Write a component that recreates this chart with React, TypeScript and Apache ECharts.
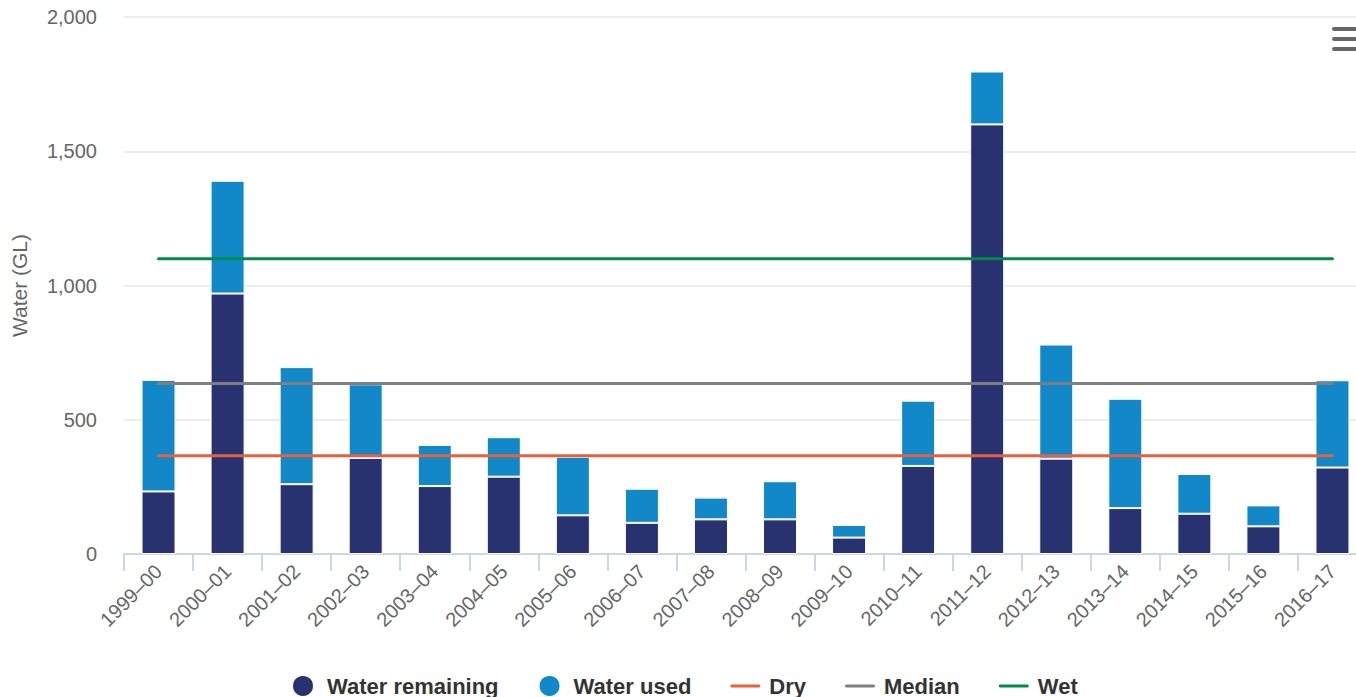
import React, { useEffect, useRef } from "react";
import * as echarts from "echarts";

const categories = [
  "1999–00", "2000–01", "2001–02", "2002–03", "2003–04", "2004–05",
  "2005–06", "2006–07", "2007–08", "2008–09", "2009–10", "2010–11",
  "2011–12", "2012–13", "2013–14", "2014–15", "2015–16", "2016–17",
];
const waterRemaining = [233, 970, 260, 358, 253, 288, 144, 116, 129, 129, 61, 328, 1600, 355, 171, 150, 103, 322];
const waterUsed = [415, 420, 436, 274, 153, 147, 218, 127, 81, 142, 47, 243, 197, 425, 407, 148, 78, 325];
const dry = [366, 366, 366, 366, 366, 366, 366, 366, 366, 366, 366, 366, 366, 366, 366, 366, 366, 366];
const median = [635, 635, 635, 635, 635, 635, 635, 635, 635, 635, 635, 635, 635, 635, 635, 635, 635, 635];
const wet = [1100, 1100, 1100, 1100, 1100, 1100, 1100, 1100, 1100, 1100, 1100, 1100, 1100, 1100, 1100, 1100, 1100, 1100];
const yTicks = { min: 0, max: 2000, interval: 500 };

const FONT = "'Liberation Sans', Arial, Helvetica, sans-serif";
const LINE_ICON = "path://M1,0 L29,0 A1.5,1.5 0 0 1 29,3 L1,3 A1.5,1.5 0 0 1 1,0 Z";

export default function App() {
  const ref = useRef<HTMLDivElement>(null);
  useEffect(() => {
    if (!ref.current) return;
    const chart = echarts.init(ref.current, undefined, { renderer: "svg" });
    const barStyle = (color: string) => ({ color, borderColor: "#ffffff", borderWidth: 1 });
    const lineSeries = (name: string, data: number[], color: string) => ({
      name,
      type: "line",
      data,
      symbol: "none",
      lineStyle: { color, width: 3, cap: "round" },
      itemStyle: { color },
      z: 5,
    });
    chart.setOption({
      animation: false,
      textStyle: { fontFamily: FONT },
      grid: { left: 124, right: 13, top: 17, bottom: 143 },
      legend: {
        left: 286,
        top: 669,
        itemWidth: 30,
        itemHeight: 22,
        itemGap: 39,
        textStyle: { fontFamily: FONT, fontSize: 22, fontWeight: "bold", color: "#333333", padding: [0, 0, 0, 4] },
        data: [
          { name: "Water remaining", icon: "circle" },
          { name: "Water used", icon: "circle" },
          { name: "Dry", icon: LINE_ICON },
          { name: "Median", icon: LINE_ICON },
          { name: "Wet", icon: LINE_ICON },
        ],
      },
      xAxis: {
        type: "category",
        data: categories,
        axisLine: { lineStyle: { color: "#ccd6eb", width: 2 } },
        axisTick: { show: true, length: 17, lineStyle: { color: "#ccd6eb", width: 2 } },
        axisLabel: { rotate: 45, fontSize: 20, color: "#666666", fontFamily: FONT, margin: 14 },
      },
      yAxis: {
        type: "value",
        min: yTicks.min,
        max: yTicks.max,
        interval: yTicks.interval,
        name: "Water (GL)",
        nameLocation: "middle",
        nameGap: 94,
        nameTextStyle: { fontSize: 21, color: "#666666", fontFamily: FONT },
        axisLine: { show: false },
        axisTick: { show: false },
        axisLabel: {
          fontSize: 20,
          color: "#666666",
          margin: 27,
          fontFamily: FONT,
          formatter: (v: number) => v.toLocaleString("en-US"),
        },
        splitLine: { lineStyle: { color: "#e6e6e6", width: 1.5 } },
      },
      series: [
        { name: "Water remaining", type: "bar", stack: "water", barWidth: 34, data: waterRemaining, itemStyle: barStyle("#293271") },
        { name: "Water used", type: "bar", stack: "water", barWidth: 34, data: waterUsed, itemStyle: barStyle("#1388c8") },
        lineSeries("Dry", dry, "#e8603c"),
        lineSeries("Median", median, "#7d8080"),
        lineSeries("Wet", wet, "#008a4b"),
      ],
      graphic: [
        { type: "rect", left: 1332, top: 27, shape: { width: 30, height: 4, r: 2 }, style: { fill: "#666666" } },
        { type: "rect", left: 1332, top: 37, shape: { width: 30, height: 4, r: 2 }, style: { fill: "#666666" } },
        { type: "rect", left: 1332, top: 47, shape: { width: 30, height: 4, r: 2 }, style: { fill: "#666666" } },
      ],
    });
    return () => chart.dispose();
  }, []);
  return (
    <div style={{ position: "fixed", left: 0, top: 0, width: 1356, height: 697, overflow: "hidden", background: "#fff" }}>
      <div ref={ref} style={{ width: 1380, height: 697 }} />
    </div>
  );
}
